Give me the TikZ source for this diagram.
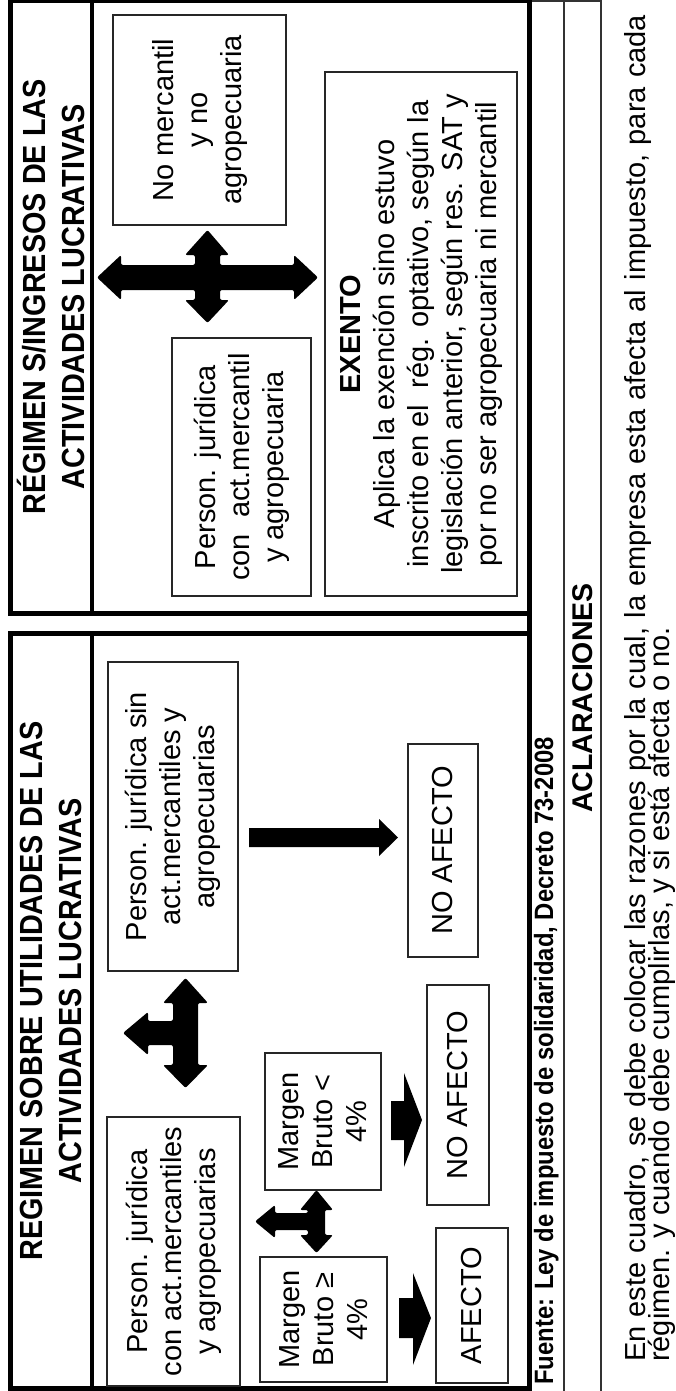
\documentclass[tikz,border=0pt]{standalone}
\usepackage{fontspec}
\setmainfont{Liberation Sans}
\newfontfamily\hdrfont[FakeStretch=0.9]{Liberation Sans}
\tikzset{
  panel/.style={draw=black, line width=5pt},
  sepline/.style={draw=black, line width=4pt},
  rule/.style={draw=black!80, line width=1.5pt},
  box/.style={draw=black!85, line width=1.4pt, rotate=90, align=center,
              inner sep=0pt, font=\fontsize{29}{34}\selectfont},
  lbl/.style={rotate=90, inner sep=0pt},
  hdr/.style={lbl, align=center, font=\hdrfont\bfseries\fontsize{32}{39}\selectfont},
  blockarrow/.style={fill=black, draw=none},
  roundarrow/.style={fill=black, draw=none, rounded corners=2pt},
}
\begin{document}
\begin{tikzpicture}[x=1pt, y=-1pt]
\useasboundingbox (0,0) rectangle (675,1391);

% table rules
\draw[rule] (529,1) -- (601,1);
\draw[rule] (564,0) -- (564,1391);
\draw[rule] (601,0) -- (601,1391);
\draw[panel] (529,0) -- (529,1391);

% the two panels and their title bands
\draw[panel] (10,1) rectangle (529,613);
\draw[panel] (10,633) rectangle (529,1388);
\draw[sepline] (92,1) -- (92,613);
\draw[sepline] (92,633) -- (92,1388);

\node[hdr] (hdrR) at (50.5,297) {RÉGIMEN S/INGRESOS DE LAS\\ACTIVIDADES LUCRATIVAS};
\node[hdr] (hdrL) at (50.5,991) {REGIMEN SOBRE UTILIDADES DE LAS\\ACTIVIDADES LUCRATIVAS};

% right panel boxes
\node[box, minimum width=210pt, minimum height=173pt] (nm) at (199.5,120)
  {No mercantil\\y no\\agropecuaria};
\node[box, minimum width=258pt, minimum height=139pt] (pjcR) at (241.5,467)
  {Person. jurídica\\con\ \ act.mercantil\\y agropecuaria};
\node[box, minimum width=524pt, minimum height=192pt] (exento) at (421,334)
  {{\bfseries EXENTO}\\Aplica la exención sino estuvo\\inscrito en el\ \ rég. optativo, según la\\legislación anterior, según res. SAT y\\por no ser agropecuaria ni mercantil};

% left panel boxes
\node[box, minimum width=309pt, minimum height=130pt] (pjs) at (173,816.5)
  {Person. jurídica sin\\act.mercantiles y\\agropecuarias};
\node[box, minimum width=213pt, minimum height=70pt] (noaf1) at (443,850.5) {NO AFECTO};
\node[box, minimum width=220pt, minimum height=62pt] (noaf2) at (458,1095) {NO AFECTO};
\node[box, minimum width=269pt, minimum height=133pt] (pjcL) at (173.5,1251.5)
  {Person. jurídica\\con act.mercantiles\\y agropecuarias};
\node[box, minimum width=137pt, minimum height=116pt] (mlt) at (323,1121.5)
  {Margen\\Bruto <\\4\%};
\node[box, minimum width=125pt, minimum height=127pt] (mge) at (323.5,1319.5)
  {Margen\\Bruto ≥\\4\%};
\node[box, minimum width=155pt, minimum height=72pt] (af) at (472,1305.5) {AFECTO};

% four-way arrow
\fill[roundarrow] (97,277.5) -- (121,255) -- (121,265) -- (195,265) -- (195,255)
  -- (185,255) -- (207.5,230) -- (229,255) -- (220,255) -- (220,265) -- (294,265)
  -- (294,255) -- (318,277.5) -- (294,300) -- (294,290) -- (220,290) -- (220,300)
  -- (229,300) -- (207.5,323) -- (185,300) -- (195,300) -- (195,290) -- (121,290)
  -- (121,300) -- cycle;

% large three-way arrow
\fill[roundarrow] (185.5,978) -- (208,1003) -- (198,1003) -- (198,1065) -- (208,1065)
  -- (185.5,1088) -- (163,1065) -- (173,1065) -- (173,1045) -- (148,1045)
  -- (148,1055) -- (123,1033) -- (148,1012) -- (148,1021) -- (173,1021)
  -- (173,1003) -- (163,1003) -- cycle;

% small three-way arrow
\fill[roundarrow] (316.5,1190) -- (333,1210) -- (325,1210) -- (325,1235) -- (333,1235)
  -- (316.5,1253) -- (300,1235) -- (308,1235) -- (308,1230) -- (275,1230)
  -- (275,1238) -- (255,1221.5) -- (275,1205) -- (275,1213) -- (308,1213)
  -- (308,1210) -- (300,1210) -- cycle;

% single arrows
\fill[blockarrow] (249,828) -- (379,828) -- (379,819) -- (398,837.5) -- (379,856)
  -- (379,847) -- (249,847) -- cycle;
\fill[blockarrow] (391,1101) -- (404,1101) -- (404,1073) -- (422,1120) -- (404,1167)
  -- (404,1140) -- (391,1140) -- cycle;
\fill[blockarrow] (399,1298) -- (413,1298) -- (413,1273) -- (431,1318) -- (413,1365)
  -- (413,1338) -- (399,1338) -- cycle;

% source and notes
\node[lbl, anchor=base west, font=\hdrfont\bfseries\fontsize{26.5}{30}\selectfont] (src)
  at (553,1385) {Fuente: Ley de impuesto de solidaridad, Decreto 73-2008};
\node[lbl, anchor=base, font=\bfseries\fontsize{28.5}{34}\selectfont] (acl)
  at (592,698) {ACLARACIONES};
\node[lbl, anchor=base west, font=\fontsize{29}{34}\selectfont] (p1) at (645,1362)
  {\hbox to 1347pt{En este cuadro, se debe colocar las razones por la cual, la empresa esta afecta al impuesto, para cada}};
\node[lbl, anchor=base west, font=\fontsize{29}{34}\selectfont] (p2) at (669.5,1362)
  {régimen. y cuando debe cumplirlas, y si está afecta o no.};
\end{tikzpicture}
\end{document}
